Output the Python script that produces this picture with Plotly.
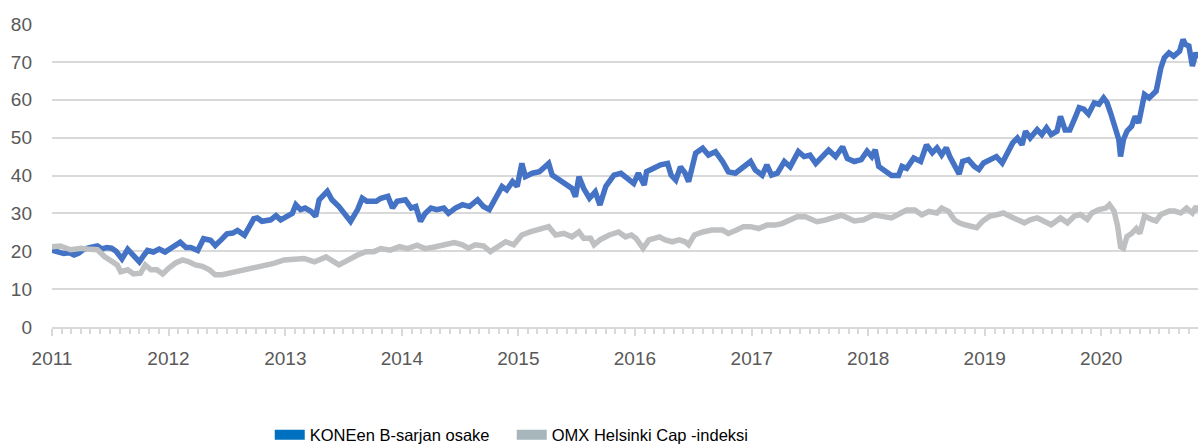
import datetime as dt
import plotly.graph_objects as go

# ---- data (dates as decimal years) ----
kone_years = [
    2011.00, 2011.05, 2011.10, 2011.15, 2011.19, 2011.23, 2011.27, 2011.33, 2011.39, 2011.43,
    2011.47, 2011.51, 2011.55, 2011.60, 2011.65, 2011.69, 2011.75, 2011.79, 2011.82, 2011.87,
    2011.92, 2011.97, 2012.03, 2012.10, 2012.15, 2012.19, 2012.25, 2012.30, 2012.36, 2012.40,
    2012.45, 2012.50, 2012.55, 2012.59, 2012.65, 2012.70, 2012.73, 2012.76, 2012.80, 2012.875,
    2012.92, 2012.96, 2013.02, 2013.06, 2013.09, 2013.13, 2013.17, 2013.22, 2013.26, 2013.29,
    2013.36, 2013.40, 2013.46, 2013.50, 2013.56, 2013.62, 2013.66, 2013.70, 2013.78, 2013.82,
    2013.88, 2013.92, 2013.96, 2014.03, 2014.08, 2014.12, 2014.16, 2014.20, 2014.25, 2014.30,
    2014.36, 2014.40, 2014.46, 2014.52, 2014.58, 2014.65, 2014.70, 2014.75, 2014.80, 2014.86,
    2014.90, 2014.95, 2014.99, 2015.03, 2015.06, 2015.12, 2015.18, 2015.22, 2015.26, 2015.29,
    2015.35, 2015.40, 2015.46, 2015.49, 2015.52, 2015.56, 2015.61, 2015.66, 2015.70, 2015.75,
    2015.82, 2015.88, 2015.93, 2015.99, 2016.03, 2016.08, 2016.10, 2016.16, 2016.22, 2016.28,
    2016.31, 2016.35, 2016.39, 2016.43, 2016.46, 2016.52, 2016.58, 2016.63, 2016.69, 2016.75,
    2016.80, 2016.86, 2016.92, 2016.99, 2017.03, 2017.09, 2017.13, 2017.17, 2017.22, 2017.28,
    2017.33, 2017.40, 2017.45, 2017.50, 2017.55, 2017.60, 2017.66, 2017.72, 2017.78, 2017.82,
    2017.88, 2017.94, 2017.99, 2018.03, 2018.06, 2018.09, 2018.15, 2018.20, 2018.26, 2018.29,
    2018.33, 2018.39, 2018.45, 2018.50, 2018.55, 2018.59, 2018.63, 2018.67, 2018.70, 2018.75,
    2018.78, 2018.81, 2018.86, 2018.91, 2018.95, 2018.99, 2019.05, 2019.10, 2019.15, 2019.19,
    2019.24, 2019.28, 2019.32, 2019.35, 2019.39, 2019.45, 2019.49, 2019.53, 2019.57, 2019.62,
    2019.65, 2019.69, 2019.73, 2019.78, 2019.81, 2019.85, 2019.89, 2019.94, 2019.98, 2020.02,
    2020.05, 2020.08, 2020.12, 2020.15, 2020.165, 2020.19, 2020.22, 2020.26, 2020.29, 2020.32,
    2020.37, 2020.41, 2020.47, 2020.51, 2020.54, 2020.58, 2020.62, 2020.67, 2020.70, 2020.72,
    2020.75, 2020.78, 2020.81, 2020.83,
]
kone_values = [
    20.3, 20.0, 19.4, 19.6, 19.0, 19.5, 20.5, 21.0, 21.4, 20.6,
    21.0, 20.8, 20.0, 18.0, 20.5, 19.2, 17.2, 19.0, 20.2, 19.8,
    20.6, 19.8, 21.0, 22.4, 21.0, 21.0, 20.2, 23.3, 22.9, 21.5,
    23.0, 24.6, 24.8, 25.5, 24.2, 26.8, 28.6, 28.8, 27.9, 28.3,
    29.4, 28.3, 29.2, 30.0, 32.3, 31.0, 31.4, 30.5, 29.2, 33.6,
    35.8, 33.6, 31.8, 30.0, 27.9, 31.0, 34.0, 33.2, 33.2, 34.0,
    34.5, 31.4, 33.2, 33.6, 31.4, 31.8, 27.9, 30.0, 31.4, 31.0,
    31.4, 30.0, 31.4, 32.3, 31.8, 33.6, 31.8, 31.0, 34.0, 37.1,
    36.2, 38.4, 37.1, 43.2, 39.7, 40.6, 41.0, 42.3, 43.2, 40.1,
    38.8, 37.9, 36.6, 34.4, 39.7, 36.6, 34.0, 35.7, 32.2, 37.1,
    40.1, 40.6, 39.3, 37.9, 40.6, 37.5, 41.0, 41.9, 42.8, 43.2,
    40.1, 38.8, 42.3, 40.6, 38.4, 45.9, 47.2, 45.4, 46.3, 43.7,
    41.0, 40.6, 41.9, 43.7, 41.5, 40.1, 42.8, 40.1, 40.6, 43.7,
    42.3, 46.3, 45.0, 45.4, 43.2, 45.0, 46.7, 45.0, 47.6, 44.5,
    43.7, 44.2, 46.4, 45.0, 46.8, 42.4, 41.1, 40.0, 40.0, 42.4,
    41.9, 44.6, 43.7, 48.1, 46.0, 47.3, 45.4, 47.3, 45.0, 42.0,
    40.4, 43.7, 44.2, 42.4, 41.6, 43.3, 44.2, 45.0, 43.3, 45.4,
    48.6, 49.9, 48.1, 51.7, 49.9, 52.1, 50.8, 52.6, 50.8, 51.7,
    55.6, 52.0, 52.0, 55.6, 57.9, 57.5, 56.2, 59.2, 58.8, 60.5,
    59.2, 56.5, 53.0, 49.5, 45.0, 49.5, 51.7, 53.0, 55.6, 53.9,
    61.4, 60.5, 62.3, 68.4, 71.1, 72.4, 71.5, 72.8, 75.9, 74.6,
    74.2, 68.9, 72.4, 71.0,
]

omx_years = [
    2011.00, 2011.07, 2011.16, 2011.25, 2011.33, 2011.39, 2011.45, 2011.50, 2011.56, 2011.59,
    2011.65, 2011.70, 2011.76, 2011.80, 2011.85, 2011.90, 2011.95, 2012.00, 2012.06, 2012.12,
    2012.17, 2012.23, 2012.29, 2012.35, 2012.40, 2012.46, 2012.52, 2012.58, 2012.63, 2012.69,
    2012.73, 2012.82, 2012.90, 2012.99, 2013.08, 2013.16, 2013.25, 2013.35, 2013.46, 2013.53,
    2013.62, 2013.69, 2013.76, 2013.82, 2013.90, 2013.98, 2014.05, 2014.13, 2014.20, 2014.29,
    2014.38, 2014.45, 2014.52, 2014.57, 2014.63, 2014.70, 2014.76, 2014.82, 2014.89, 2014.96,
    2015.03, 2015.10, 2015.19, 2015.26, 2015.32, 2015.39, 2015.46, 2015.52, 2015.56, 2015.62,
    2015.65, 2015.70, 2015.78, 2015.86, 2015.92, 2015.97, 2016.01, 2016.07, 2016.12, 2016.21,
    2016.26, 2016.32, 2016.38, 2016.43, 2016.46, 2016.51, 2016.58, 2016.66, 2016.75, 2016.80,
    2016.87, 2016.93, 2016.99, 2017.06, 2017.13, 2017.20, 2017.26, 2017.32, 2017.39, 2017.46,
    2017.50, 2017.56, 2017.63, 2017.70, 2017.77, 2017.83, 2017.88, 2017.96, 2018.05, 2018.12,
    2018.20, 2018.28, 2018.33, 2018.40, 2018.46, 2018.52, 2018.59, 2018.63, 2018.69, 2018.74,
    2018.78, 2018.83, 2018.89, 2018.93, 2018.98, 2019.04, 2019.10, 2019.16, 2019.22, 2019.28,
    2019.34, 2019.39, 2019.45, 2019.51, 2019.57, 2019.65, 2019.71, 2019.77, 2019.82, 2019.88,
    2019.92, 2019.98, 2020.04, 2020.07, 2020.11, 2020.14, 2020.165, 2020.19, 2020.22, 2020.26,
    2020.30, 2020.33, 2020.37, 2020.43, 2020.47, 2020.51, 2020.58, 2020.63, 2020.68, 2020.73,
    2020.78, 2020.81, 2020.83,
]
omx_values = [
    21.2, 21.4, 20.4, 20.8, 20.5, 20.4, 18.6, 17.7, 16.4, 14.6,
    15.1, 14.0, 14.2, 16.4, 15.1, 15.1, 14.0, 15.5, 16.9, 17.7,
    17.3, 16.4, 16.0, 15.1, 13.8, 13.8, 14.2, 14.6, 15.1, 15.5,
    15.5, 16.0, 16.8, 17.7, 18.1, 18.1, 17.2, 18.5, 16.4, 17.7,
    19.0, 19.9, 19.9, 20.7, 20.3, 21.2, 20.7, 21.6, 20.7, 21.2,
    22.0, 22.3, 21.7, 20.8, 21.7, 21.4, 19.9, 21.2, 22.5, 21.7,
    24.3, 25.1, 26.0, 26.5, 24.3, 24.7, 23.8, 25.1, 23.4, 23.4,
    21.7, 23.0, 24.3, 25.1, 23.8, 24.3, 23.4, 20.8, 23.0, 23.8,
    23.0, 22.5, 23.0, 22.5, 21.7, 24.3, 25.1, 25.6, 25.6, 24.7,
    25.6, 26.5, 26.5, 26.0, 26.9, 26.9, 27.3, 28.2, 29.1, 29.1,
    28.7, 27.8, 28.2, 28.7, 29.5, 28.7, 28.0, 28.3, 29.6, 29.2,
    28.8, 30.1, 30.9, 30.9, 29.6, 30.5, 30.1, 31.4, 30.5, 28.3,
    27.5, 27.0, 26.6, 26.2, 27.9, 29.2, 29.6, 30.1, 29.2, 28.3,
    27.5, 28.3, 28.8, 27.9, 27.0, 28.8, 27.5, 29.3, 29.7, 28.4,
    30.1, 31.0, 31.4, 32.3, 30.6, 26.6, 21.2, 20.8, 23.9, 24.7,
    26.0, 24.7, 29.3, 28.4, 28.0, 29.7, 30.6, 30.6, 30.1, 31.4,
    30.1, 31.8, 30.5,
]

series_names = ["KONEen B-sarjan osake", "OMX Helsinki Cap -indeksi"]
y_ticks = [0, 10, 20, 30, 40, 50, 60, 70, 80]


def to_date(y):
    year = int(y)
    start = dt.datetime(year, 1, 1)
    end = dt.datetime(year + 1, 1, 1)
    return start + (end - start) * (y - year)


kone_dates = [to_date(v) for v in kone_years]
omx_dates = [to_date(v) for v in omx_years]

LINE_BLUE = "#4472C4"
LINE_GRAY = "#BEC0C2"
LEG_BLUE = "#0070C0"
LEG_GRAY = "#A6B6BA"
FONT = "Arial, Liberation Sans, sans-serif"

fig = go.Figure()
fig.add_trace(go.Scatter(x=kone_dates, y=kone_values, mode="lines",
                         line=dict(color=LINE_BLUE, width=5.5), showlegend=False,
                         name=series_names[0]))
fig.add_trace(go.Scatter(x=omx_dates, y=omx_values, mode="lines",
                         line=dict(color=LINE_GRAY, width=5.5), showlegend=False,
                         name=series_names[1]))
# legend entries
fig.add_trace(go.Scatter(x=[None], y=[None], mode="lines",
                         line=dict(color=LEG_BLUE, width=10), name=series_names[0]))
fig.add_trace(go.Scatter(x=[None], y=[None], mode="lines",
                         line=dict(color=LEG_GRAY, width=10), name=series_names[1]))

fig.update_layout(
    width=1198, height=447,
    margin=dict(l=52, r=0, t=24, b=120),
    paper_bgcolor="white", plot_bgcolor="white",
    font=dict(family=FONT, color="#595959", size=19),
    showlegend=True,
    legend=dict(orientation="h", x=0.19, xanchor="left",
                yref="container", y=0.027, yanchor="middle",
                entrywidth=197, entrywidthmode="pixels",
                font=dict(size=16.5, color="#000000", family=FONT),
                itemwidth=30, bgcolor="rgba(0,0,0,0)"),
)
fig.update_yaxes(range=[0, 80], tickvals=y_ticks, showgrid=True, gridcolor="#D9D9D9",
                 gridwidth=2, zeroline=False, showline=False, ticks="",
                 ticklabelstandoff=19, tickfont=dict(size=19, color="#595959"))
fig.update_xaxes(type="date", range=[to_date(2011.0), to_date(2020.828)],
                 dtick="M12", tick0="2011-01-01", tickformat="%Y",
                 showgrid=False, zeroline=False, showline=True, linecolor="#D9D9D9",
                 linewidth=2, ticks="outside", ticklen=7, tickwidth=1.5, tickcolor="#D9D9D9",
                 minor=dict(dtick="M1", ticks="outside", ticklen=5, tickwidth=1.5,
                            tickcolor="#D9D9D9", showgrid=False),
                 ticklabelstandoff=6, tickfont=dict(size=19, color="#595959"))

fig.write_html("out.html", config={"displayModeBar": False},
               post_script="document.body.style.margin='0';document.body.style.padding='0';")
